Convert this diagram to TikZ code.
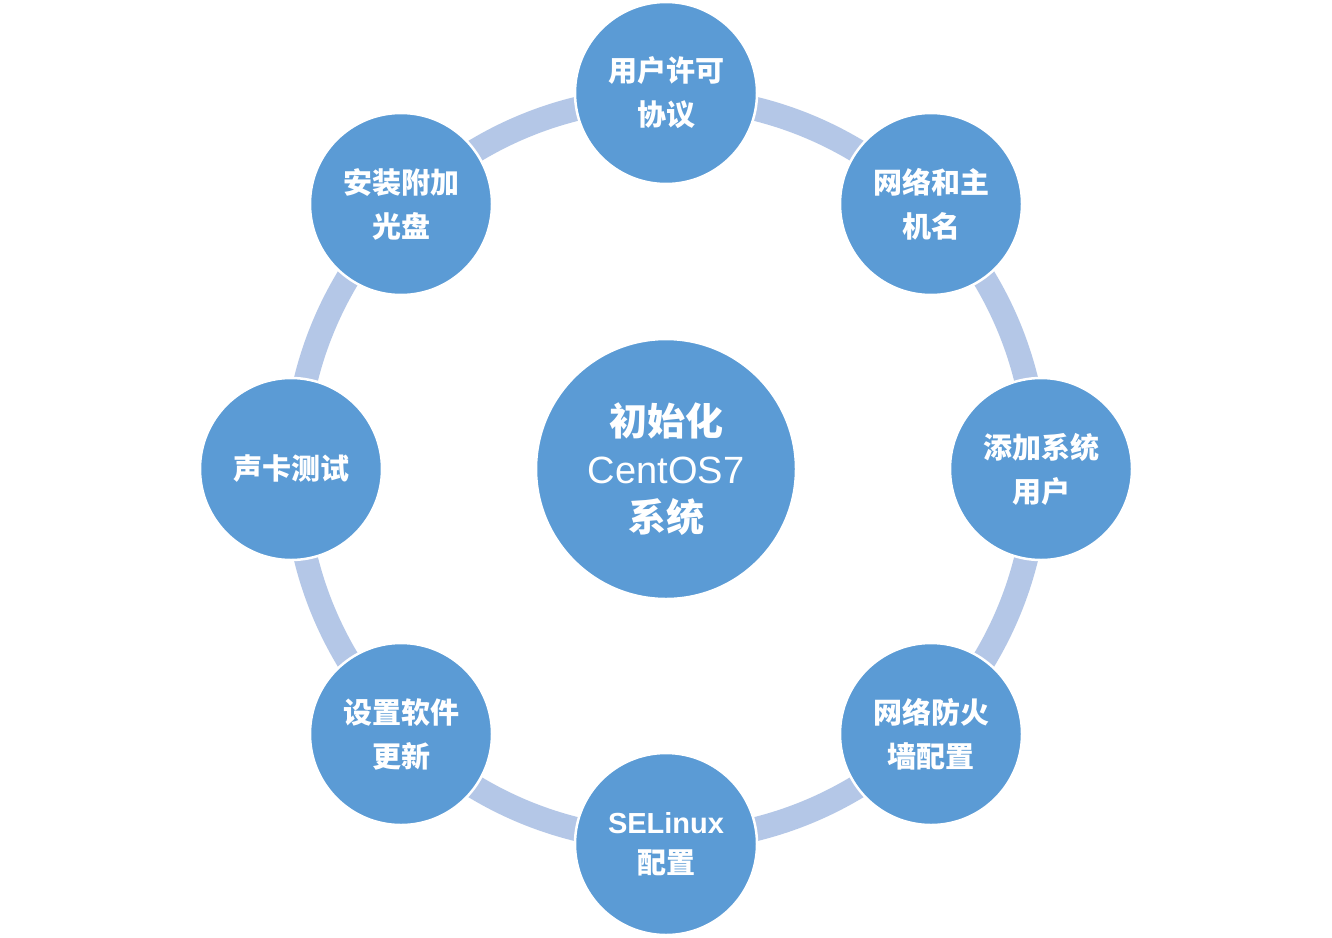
\documentclass[tikz,border=0pt]{standalone}
\usepackage{fontspec}
\setmainfont{Liberation Sans}
\newfontfamily\cjk{Noto Sans CJK SC}
\definecolor{ringc}{HTML}{B4C7E7}
\definecolor{circc}{HTML}{5B9BD5}
\begin{document}
\begin{tikzpicture}[x=1pt,y=-1pt,
  sat/.style={circle,fill=circc,draw=white,line width=2.5pt,minimum size=182pt,inner sep=0pt,
    text=white,align=center,font=\fontsize{29}{44}\selectfont\bfseries\cjk},
  hub/.style={circle,fill=circc,draw=white,line width=2.5pt,minimum size=260pt,inner sep=0pt,
    text=white,align=center,font=\fontsize{38}{48}\selectfont\bfseries\cjk}]
\useasboundingbox[fill=white] (0,0) rectangle (1332,937);
\coordinate (c) at (666,469);
\draw[ringc,line width=24pt] (c) circle[radius=371];
\node[hub] (hub) at (c) {初始化\\{\normalfont\rmfamily\fontsize{38}{48}\selectfont CentOS7}\\系统};
\node[sat] (s1) at (666,93) {用户许可\\协议};
\node[sat] (s2) at (931,204) {网络和主\\机名};
\node[sat] (s3) at (1041,469) {添加系统\\用户};
\node[sat] (s4) at (931,734) {网络防火\\墙配置};
\node[sat] (s5) at (666,844) {{\rmfamily\bfseries SELinux}\\[-4pt]配置};
\node[sat] (s6) at (401,734) {设置软件\\更新};
\node[sat] (s7) at (291,469) {声卡测试};
\node[sat] (s8) at (401,204) {安装附加\\光盘};
\end{tikzpicture}
\end{document}
